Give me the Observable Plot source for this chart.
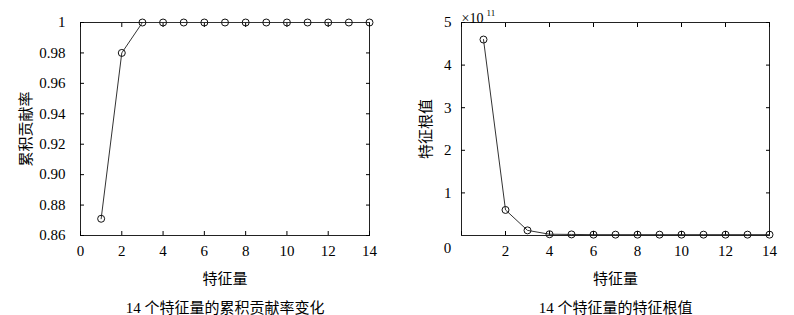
<!DOCTYPE html>
<html><head><meta charset="utf-8">
<script src="https://cdn.jsdelivr.net/npm/d3@7"></script>
<script src="https://cdn.jsdelivr.net/npm/@observablehq/plot@0.6"></script>
<style>
body{margin:0;background:#fff;}
#wrap{display:flex;width:794px;height:315px;}
svg, svg text, svg g{font-family:"Liberation Serif","Noto Sans CJK SC",serif !important;}
</style></head><body><div id="wrap"></div>
<script>
const features = [1,2,3,4,5,6,7,8,9,10,11,12,13,14];
const cumRate = [0.871,0.98,1,1,1,1,1,1,1,1,1,1,1,1];
const eigen = [4.6,0.6,0.12,0.03,0.025,0.02,0.02,0.02,0.02,0.02,0.02,0.02,0.02,0.02]; // ×10^11
const xTicks = [0,2,4,6,8,10,12,14];
const yTicksL = [0.86,0.88,0.90,0.92,0.94,0.96,0.98,1];
const yTicksR = [1,2,3,4,5];
const xLabel = "特征量";
const captionL = "14 个特征量的累积贡献率变化";
const captionR = "14 个特征量的特征根值";
const yLabelL = "累积贡献率";
const yLabelR = "特征根值";

const font = 15;
function panel(opts){
  const data = features.map((f,i)=>({x:f,y:opts.values[i]}));
  const blank = () => "";
  return Plot.plot({
    width: opts.width, height: 315,
    marginLeft: opts.ml, marginRight: opts.mr, marginTop: 22, marginBottom: 80,
    style:{fontSize: font+"px", color:"#000", background:"#fff"},
    x:{domain:[0,14]},
    y:{domain:opts.domain},
    marks:[
      Plot.frame({stroke:"#222"}),
      Plot.axisX(opts.xTickMarks,{anchor:"bottom", tickSize:-4, tickFormat:blank, label:null}),
      Plot.axisX(opts.xTickMarks,{anchor:"top", tickSize:-4, tickFormat:blank, label:null}),
      Plot.axisY(opts.yTicks,{anchor:"left", tickSize:-4, tickFormat:blank, label:null}),
      Plot.axisY(opts.yTicks,{anchor:"right", tickSize:-4, tickFormat:blank, label:null}),
      Plot.axisX(opts.xLabels,{anchor:"bottom", tickSize:0, tickPadding:10, fontSize:font, tickFormat:d=>String(d),
        label:xLabel, labelAnchor:"center", labelArrow:"none", labelOffset:48}),
      Plot.axisY(opts.yTicks,{anchor:"left", tickSize:0, tickPadding:opts.yPad, fontSize:font, tickFormat:opts.yFmt,
        label:opts.yLabel, labelAnchor:"center", labelArrow:"none", labelOffset:opts.labelOffset}),
      ...(opts.extra||[]),
      Plot.line(data,{x:"x",y:"y",stroke:"#333",strokeWidth:1}),
      Plot.dot(data,{x:"x",y:"y",r:3.5,stroke:"#111",fill:"none",strokeWidth:1}),
      Plot.text([opts.caption],{frameAnchor:"bottom", dy:77, fontSize:15, fill:"#000"})
    ]
  });
}

const left = panel({
  width:400, ml:80, mr:31, values:cumRate, domain:[0.86,1],
  xTickMarks:xTicks, xLabels:xTicks, yTicks:yTicksL, yPad:15,
  yFmt:d=> d===1 ? "1" : d.toFixed(2), yLabel:yLabelL, labelOffset:60, caption:captionL
});
const right = panel({
  width:394, ml:61, mr:25, values:eigen, domain:[0,5],
  xTickMarks:xTicks, xLabels:xTicks.slice(1), yTicks:yTicksR, yPad:10,
  yFmt:d=>String(d), yLabel:yLabelR, labelOffset:41, caption:captionR,
  extra:[
    Plot.text(["0"],{x:0, frameAnchor:"bottom", dy:17, dx:-14, fontSize:font, fill:"#000"}),
    Plot.text(["×10"],{frameAnchor:"top-left", dy:-9, dx:0, fontSize:14, textAnchor:"start", fill:"#000"}),
    Plot.text(["11"],{frameAnchor:"top-left", dy:-13, dx:25, fontSize:9, textAnchor:"start", fill:"#000"})
  ]
});
document.getElementById("wrap").append(left, right);
</script></body></html>
